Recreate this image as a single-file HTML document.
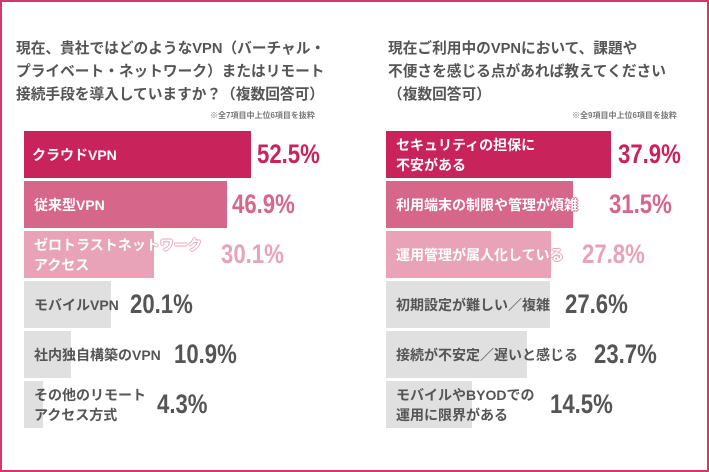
<!DOCTYPE html>
<html><head><meta charset="utf-8"><style>
*{margin:0;padding:0;box-sizing:border-box}
body{width:709px;height:472px;background:#fff;position:relative;overflow:hidden;font-family:"Liberation Sans","Noto Sans CJK JP",sans-serif;color:#555}
.frame{position:absolute;left:0;top:0;width:709px;height:472px;border:2px solid #d4386a}
.t{position:absolute;font-size:14.7px;font-weight:bold;line-height:23px;white-space:nowrap;color:#555}
.n{position:absolute;font-size:8px;color:#777;font-weight:bold;white-space:nowrap}
.bar{position:absolute;height:47px}
.lb{position:absolute;font-size:14px;font-weight:bold;line-height:20px;white-space:nowrap;display:flex;align-items:center;height:47px}
.w{color:#fff}
.o2{text-shadow:-1px 0 #d6668a,1px 0 #d6668a,0 -1px #d6668a,0 1px #d6668a}
.o3{text-shadow:-1px 0 #e8a3b8,1px 0 #e8a3b8,0 -1px #e8a3b8,0 1px #e8a3b8}
.v{position:absolute;font-family:"Liberation Sans",sans-serif;font-weight:bold;font-size:27px;line-height:47px;height:47px;white-space:nowrap;transform:scaleX(0.82);transform-origin:left center}
.c1{background:#c8235a}.c2{background:#d6668a}.c3{background:#e8a3b8}.c4{background:#e0e0e0}
</style></head><body>
<div class="frame"></div>
<div class="t" style="left:16px;top:38px">現在、貴社ではどのようなVPN（バーチャル・<br>プライベート・ネットワーク）またはリモート<br>接続手段を導入していますか？（複数回答可）</div>
<div class="n" style="left:210px;top:110px">※全7項目中上位6項目を抜粋</div>
<div class="t" style="left:388px;top:38px">現在ご利用中のVPNにおいて、課題や<br>不便さを感じる点があれば教えてください<br>（複数回答可）</div>
<div class="n" style="left:572px;top:110px">※全9項目中上位6項目を抜粋</div>

<div class="bar c1" style="left:24px;top:131px;width:227px"></div>
<div class="bar c2" style="left:24px;top:181px;width:203px"></div>
<div class="bar c3" style="left:24px;top:231px;width:130px"></div>
<div class="bar c4" style="left:24px;top:281px;width:87px"></div>
<div class="bar c4" style="left:24px;top:331px;width:47px"></div>
<div class="bar c4" style="left:24px;top:381px;width:19px"></div>
<div class="lb w" style="left:32px;top:131px">クラウドVPN</div>
<div class="lb w o2" style="left:34px;top:181px">従来型VPN</div>
<div class="lb w o3" style="left:34px;top:231px">ゼロトラストネットワーク<br>アクセス</div>
<div class="lb" style="left:34px;top:281px">モバイルVPN</div>
<div class="lb" style="left:34px;top:331px">社内独自構築のVPN</div>
<div class="lb" style="left:34px;top:381px">その他のリモート<br>アクセス方式</div>
<div class="v" style="left:257px;top:131px;color:#c8235a">52.5%</div>
<div class="v" style="left:232px;top:181px;color:#d6668a">46.9%</div>
<div class="v" style="left:221px;top:231px;color:#e8a3b8">30.1%</div>
<div class="v" style="left:130px;top:281px">20.1%</div>
<div class="v" style="left:174px;top:331px">10.9%</div>
<div class="v" style="left:157px;top:381px">4.3%</div>

<div class="bar c1" style="left:386px;top:131px;width:225px"></div>
<div class="bar c2" style="left:386px;top:181px;width:187px"></div>
<div class="bar c3" style="left:386px;top:231px;width:165px"></div>
<div class="bar c4" style="left:386px;top:281px;width:164px"></div>
<div class="bar c4" style="left:386px;top:331px;width:141px"></div>
<div class="bar c4" style="left:386px;top:381px;width:86px"></div>
<div class="lb w" style="left:396px;top:131px">セキュリティの担保に<br>不安がある</div>
<div class="lb w o2" style="left:396px;top:181px">利用端末の制限や管理が煩雑</div>
<div class="lb w o3" style="left:396px;top:231px">運用管理が属人化している</div>
<div class="lb" style="left:396px;top:281px">初期設定が難しい／複雑</div>
<div class="lb" style="left:396px;top:331px">接続が不安定／遅いと感じる</div>
<div class="lb" style="left:396px;top:381px">モバイルやBYODでの<br>運用に限界がある</div>
<div class="v" style="left:618px;top:131px;color:#c8235a">37.9%</div>
<div class="v" style="left:609px;top:181px;color:#d6668a">31.5%</div>
<div class="v" style="left:582px;top:231px;color:#e8a3b8">27.8%</div>
<div class="v" style="left:565px;top:281px">27.6%</div>
<div class="v" style="left:594px;top:331px">23.7%</div>
<div class="v" style="left:550px;top:381px">14.5%</div>
</body></html>
